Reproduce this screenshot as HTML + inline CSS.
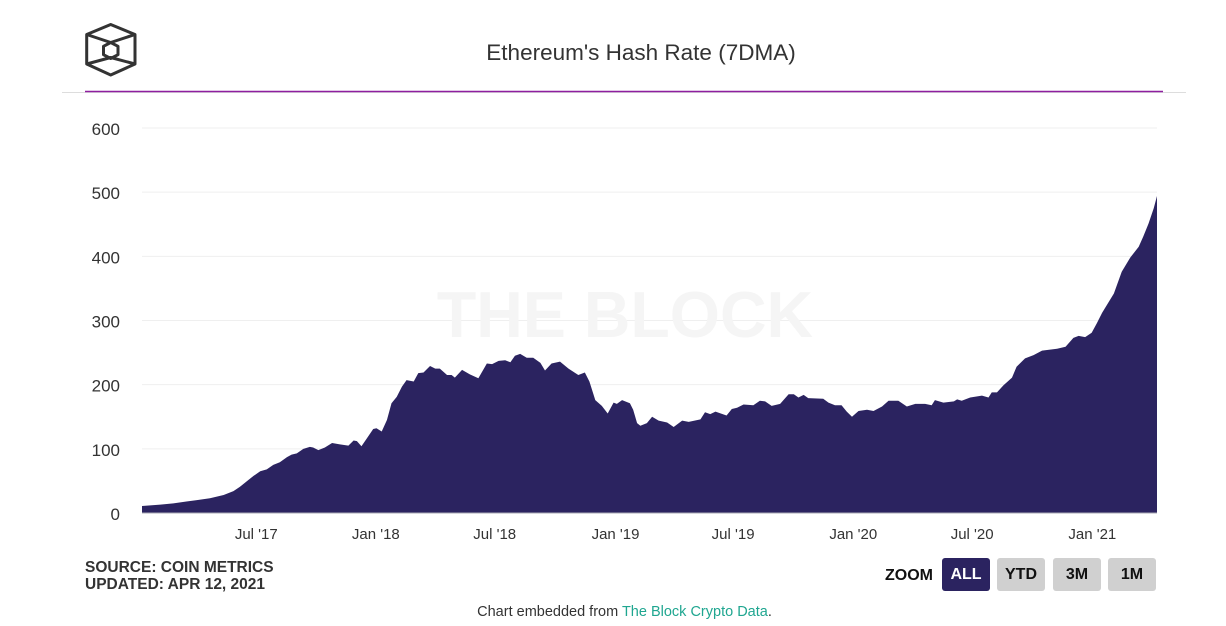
<!DOCTYPE html>
<html lang="en">
<head>
<meta charset="utf-8">
<title>Ethereum's Hash Rate (7DMA)</title>
<style>
html,body{margin:0;padding:0;background:#fff;}
body{width:1226px;height:626px;overflow:hidden;position:relative;font-family:"Liberation Sans",sans-serif;}
svg{position:absolute;left:0;top:0;}
.btn{position:absolute;top:558px;width:48px;height:33px;border:0;border-radius:3px;padding:0;background:#d0d0d0;color:#111;font:bold 16px "Liberation Sans",sans-serif;text-align:center;line-height:33px;}
.btn.active{background:#2b2360;color:#fff;}
</style>
</head>
<body>
<svg id="chart" width="1226" height="626" viewBox="0 0 1226 626">
  <g fill="none" stroke="#333" stroke-width="3" stroke-linejoin="round">
    <path d="M110.700 24.500L135 34.500V64L110.700 75L86.700 64V34.500Z"/>
    <path d="M110.700 42.500L118 46.300V54.700L110.700 58.500L103.500 54.700V46.300Z"/>
    <path d="M86.700 34.500L110.700 42.500L135 34.500M86.700 64L110.700 57.500L135 64"/>
  </g>
  <text x="641" y="60" text-anchor="middle" font-size="22.500" fill="#333">Ethereum's Hash Rate (7DMA)</text>
  <line x1="62" x2="1186" y1="92.500" y2="92.500" stroke="#ddd" stroke-width="1"/>
  <line x1="85" x2="1163" y1="91.500" y2="91.500" stroke="#8e1f9f" stroke-width="1.500"/>
  <g id="grid"></g>
  <text x="625" y="337" text-anchor="middle" font-size="64.500" font-weight="bold" fill="#f5f5f5">THE BLOCK</text>
  <path id="area" fill="#2b2360"></path>
  <line x1="142" x2="1157" y1="513" y2="513" stroke="#a9a9b5" stroke-width="1"/>
  <g id="yticks"></g>
  <g id="xticks"></g>
  <text x="85" y="572" font-size="15.500" font-weight="bold" fill="#333">SOURCE: COIN METRICS</text>
  <text x="85" y="589" font-size="15.500" font-weight="bold" fill="#333">UPDATED: APR 12, 2021</text>
  <text x="885" y="580" font-size="16" font-weight="bold" fill="#111">ZOOM</text>
  <text x="624.500" y="616" text-anchor="middle" font-size="14.500" fill="#333">Chart embedded from <tspan fill="#1fa690">The Block Crypto Data</tspan>.</text>
</svg>
<button class="btn active" style="left:942px">ALL</button>
<button class="btn" style="left:997px">YTD</button>
<button class="btn" style="left:1053px">3M</button>
<button class="btn" style="left:1108px">1M</button>
<script>
// Days since 7 Jan 2017
const sampleDays = [0,28,48,68,84,104,125,140,150,160,171,181,191,201,211,222,229,237,247,257,262,270,280,291,303,316,324,329,336,344,354,359,367,375,382,390,398,405,416,423,431,441,449,456,467,474,479,490,502,515,528,536,546,556,564,571,579,589,599,610,617,627,640,653,668,678,685,694,704,713,722,727,735,747,752,758,763,773,781,791,804,814,827,837,855,862,870,878,895,903,911,921,936,946,954,964,977,990,998,1005,1013,1020,1043,1051,1061,1071,1079,1087,1097,1110,1120,1133,1143,1158,1171,1184,1199,1209,1214,1227,1243,1248,1255,1268,1286,1296,1301,1309,1319,1332,1339,1352,1365,1378,1401,1414,1426,1434,1444,1454,1462,1470,1488,1500,1513,1526,1533,1541,1549,1554];
// Hash rate in TH/s
const hashRate = [11,13,15,18,20,23,28,34,41,49,58,65,68,75,79,87,91,93,100,103,102,98,102,109,107,105,113,112,104,116,131,132,127,145,171,181,197,207,205,218,219,229,225,225,215,215,211,223,216,210,233,232,237,238,235,245,248,242,242,234,222,233,236,225,215,219,205,176,167,155,172,170,176,171,161,140,136,140,150,144,141,134,144,142,146,157,154,158,152,162,164,169,168,175,174,167,170,185,185,180,184,179,178,172,168,168,158,150,159,161,159,166,175,175,166,170,170,168,176,172,174,177,175,180,183,180,188,188,199,211,228,241,246,253,256,259,273,276,274,281,296,312,342,376,398,415,431,451,475,494];
const yTickValues = [0,100,200,300,400,500,600];
const xTickLabels = ["Jul '17","Jan '18","Jul '18","Jan '19","Jul '19","Jan '20","Jul '20","Jan '21"];
const xTickDays = [175,358,540,725,905,1089,1271,1455];

const NS = 'http://www.w3.org/2000/svg';
const plot = {left:142,right:1157,top:128,bottom:513};
const domainX = [0,1554];
const domainY = [0,600];
function xScale(d){return plot.left+(d-domainX[0])/(domainX[1]-domainX[0])*(plot.right-plot.left);}
function yScale(v){return plot.bottom-(v-domainY[0])/(domainY[1]-domainY[0])*(plot.bottom-plot.top);}

const gridGroup = document.getElementById('grid');
const yGroup = document.getElementById('yticks');
yTickValues.forEach(function(v){
  if(v>0){
    const gl = document.createElementNS(NS,'line');
    
    
    gl.setAttribute('x1',plot.left);
    gl.setAttribute('x2',plot.right);
    gl.setAttribute('y1',yScale(v));
    gl.setAttribute('y2',yScale(v));
    gl.setAttribute('stroke','#efefef');
    gl.setAttribute('stroke-width','1');
    gridGroup.appendChild(gl);
  }
  const t = document.createElementNS(NS,'text');
  
  
  t.setAttribute('x',120);
  t.setAttribute('y',yScale(v)+7);
  t.setAttribute('text-anchor','end');
  t.setAttribute('font-size','17');
  t.setAttribute('fill','#333');
  t.textContent = v;
  yGroup.appendChild(t);
});

const xGroup = document.getElementById('xticks');
xTickLabels.forEach(function(label,i){
  const t = document.createElementNS(NS,'text');
  
  
  t.setAttribute('x',xScale(xTickDays[i]));
  t.setAttribute('y',539);
  t.setAttribute('text-anchor','middle');
  t.setAttribute('font-size','15');
  t.setAttribute('fill','#333');
  t.textContent = label;
  xGroup.appendChild(t);
});

let d = 'M'+xScale(sampleDays[0]).toFixed(2)+' '+yScale(0).toFixed(2);
sampleDays.forEach(function(day,i){
  d += 'L'+xScale(day).toFixed(2)+' '+yScale(hashRate[i]).toFixed(2);
});
d += 'L'+xScale(sampleDays[sampleDays.length-1]).toFixed(2)+' '+yScale(0).toFixed(2)+'Z';
document.getElementById('area').setAttribute('d',d);
</script>
</body>
</html>
